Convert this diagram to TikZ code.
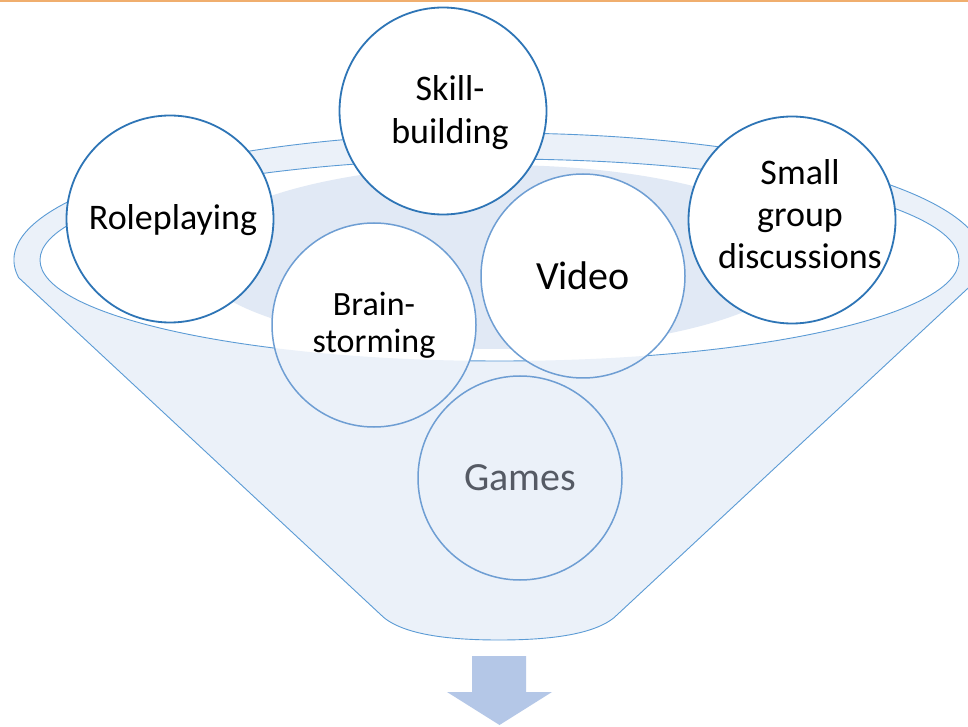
\documentclass[tikz,border=0pt]{standalone}
\usepackage{fontspec}
\setmainfont{Carlito}
\definecolor{funnel}{HTML}{EBF1F9}
\definecolor{darkin}{HTML}{E1E9F5}
\definecolor{lineblue}{HTML}{5B9BD5}
\definecolor{ringblue}{HTML}{2E75B6}
\definecolor{inblue}{HTML}{6E9ED3}
\definecolor{arrowblue}{HTML}{B4C7E7}
\definecolor{topline}{HTML}{F0AE6E}
\definecolor{gamesgray}{HTML}{555A64}
\begin{document}
\begin{tikzpicture}[x=1pt,y=1pt,
  fl/.style={draw=lineblue, line width=0.9pt},
  topc/.style={circle, draw=ringblue, line width=1.8pt, fill=white, minimum size=207pt, inner sep=0pt},
  inc/.style={circle, draw=inblue, line width=1.5pt, minimum size=204pt, inner sep=0pt, align=center},
  lbl/.style={align=center, font=\fontsize{36}{42}\selectfont, text=black},
]
\useasboundingbox (0,0) rectangle (968,726);
\fill[white] (0,0) rectangle (968,726);
\draw[topline, line width=2pt] (0,725) -- (968,725);
% funnel body
\path[fl, fill=funnel] (18.7,448.3) arc[start angle=188, end angle=-8, x radius=485, y radius=127]
  -- (618,112) .. controls (598,91) and (548,86) .. (499,86)
  .. controls (450,86) and (400,91) .. (380,112) -- cycle;
% inner opening
\path[fl, fill=white] (499.5,466) ellipse[x radius=459.5, y radius=101];
\fill[darkin] (499,469) ellipse[x radius=305, y radius=92];
% circles inside the funnel
\fill[white] (374,401) circle[radius=102];
\fill[white] (583,450) circle[radius=102];
\fill[white] (520,248) circle[radius=102];
\begin{scope}
  \clip (40,466) arc[start angle=180, end angle=360, x radius=459.5, y radius=101] -- (959,0) -- (40,0) -- cycle;
  \fill[funnel] (374,401) circle[radius=102];
  \fill[funnel] (583,450) circle[radius=102];
  \fill[funnel] (520,248) circle[radius=102];
\end{scope}
\node[inc, font=\fontsize{34}{37}\selectfont] (brain) at (374,401) {Brain-\\storming};
\node[inc, font=\fontsize{40}{46}\selectfont] (video) at (583,450) {Video};
\node[inc, font=\fontsize{40}{46}\selectfont, text=gamesgray] (games) at (520,248) {Games};
% circles on the rim
\node[topc] (role) at (170,507) {};
\node[topc] (skill) at (443,615) {};
\node[topc] (small) at (792,506) {};
\node[lbl] (roletext) at (173,506) {Roleplaying};
\node[lbl, font=\fontsize{36}{43}\selectfont] (skilltext) at (450,613) {Skill-\\building};
\node[lbl] (smalltext) at (800,512) {Small\\group\\discussions};
% output arrow
\fill[arrowblue] (472,70) -- (526,70) -- (526,34) -- (552,34) -- (499.5,1) -- (447,34) -- (472,34) -- cycle;
\end{tikzpicture}
\end{document}
